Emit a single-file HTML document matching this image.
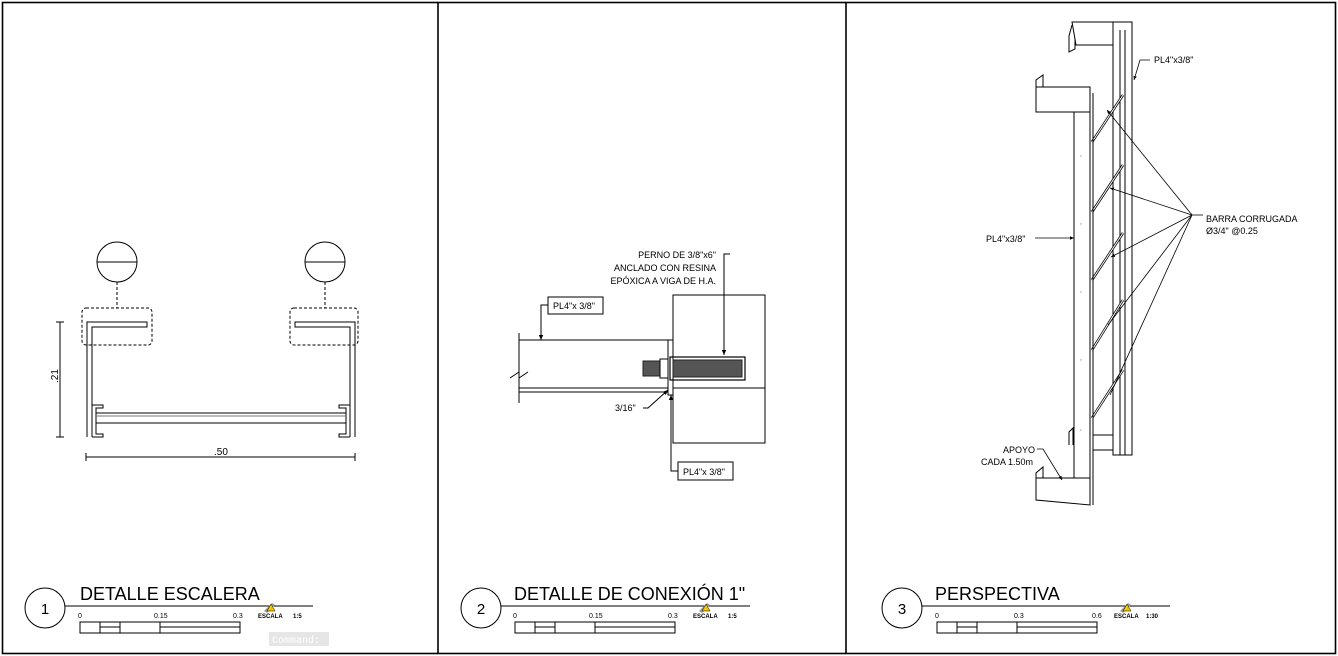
<!DOCTYPE html>
<html><head><meta charset="utf-8"><style>
html,body{margin:0;padding:0;background:#fff;}
svg{display:block;}
text{font-family:"Liberation Sans",sans-serif;fill:#000;}
</style></head><body>
<svg width="1338" height="656" viewBox="0 0 1338 656" xmlns="http://www.w3.org/2000/svg">
<defs>
<marker id="ar" markerWidth="6" markerHeight="6" refX="5" refY="3" orient="auto"><path d="M0,0.8 L5,3 L0,5.2 z" fill="#000"/></marker>
</defs>
<g fill="none" stroke="#000">
<!-- frame -->
<rect x="2.5" y="2.5" width="1333" height="651" stroke-width="1.6"/>
<line x1="438" y1="2" x2="438" y2="654" stroke-width="1.6"/>
<line x1="846" y1="2" x2="846" y2="654" stroke-width="1.6"/>

<!-- PANEL 1 -->
<g stroke-width="1">
<circle cx="117" cy="262" r="20"/><line x1="97" y1="262" x2="137" y2="262"/>
<circle cx="325" cy="262" r="20"/><line x1="305" y1="262" x2="345" y2="262"/>
<line x1="117" y1="282" x2="117" y2="308" stroke-dasharray="3,2"/>
<line x1="325" y1="282" x2="325" y2="308" stroke-dasharray="3,2"/>
<rect x="82" y="308" width="70" height="37" rx="4" stroke-dasharray="3,2"/>
<rect x="290" y="308" width="68" height="37" rx="4" stroke-dasharray="3,2"/>
<path d="M87,437 V322 H147 V327 H92 V437"/>
<path d="M355,437 V322 H295 V327 H350 V437"/>
<path d="M92,405 H103 V408 H96 V434 H103 V437 H92"/>
<path d="M350,405 H339 V408 H346 V434 H339 V437 H350"/>
<line x1="96" y1="413" x2="346" y2="413"/><line x1="96" y1="416" x2="346" y2="416" stroke="#777"/>
<line x1="96" y1="423" x2="346" y2="423"/>
<line x1="60" y1="322" x2="60" y2="437"/>
<line x1="56" y1="322" x2="64" y2="322"/><line x1="56" y1="437" x2="64" y2="437"/>
<line x1="86" y1="457" x2="355" y2="457"/>
<line x1="86" y1="453" x2="86" y2="461"/><line x1="355" y1="453" x2="355" y2="461"/>
</g>

<!-- PANEL 2 -->
<g stroke-width="1">
<rect x="673" y="295" width="92" height="148"/>
<line x1="673" y1="388" x2="765" y2="388"/>
<line x1="519" y1="333" x2="519" y2="403"/>
<path d="M510,378 L519,372 L519,378 L528,372"/>
<line x1="519" y1="340" x2="668" y2="340"/>
<line x1="519" y1="388" x2="668" y2="388"/>
<line x1="519" y1="392" x2="668" y2="392"/>
<rect x="668" y="340" width="5" height="55"/>
<rect x="670" y="357" width="75" height="23" stroke-width="1.2"/>
<rect x="673" y="360" width="69" height="17" fill="#555" stroke="#222"/>
<rect x="643" y="361" width="17" height="15" fill="#555" stroke="#222"/>
<rect x="660" y="359" width="8" height="19" fill="#fff"/>
<path d="M730,254 H724 V355" marker-end="url(#ar)"/>
<rect x="548" y="297" width="55" height="17"/>
<path d="M548,305 H541 V340" marker-end="url(#ar)"/>
<path d="M643,408 H648 L668,390" marker-end="url(#ar)"/>
<rect x="678" y="462" width="55" height="18"/>
<path d="M678,471 H671 V395" marker-end="url(#ar)"/>
</g>

<!-- PANEL 3 -->
<g stroke-width="1">
<!-- right post -->
<path d="M1072,22 H1113 V45 H1076 Z" fill="#fff"/>
<path d="M1072,25 L1069,36 V52 L1075,49 V38"/>
<rect x="1113" y="22" width="19" height="433"/>
<line x1="1120" y1="30" x2="1120" y2="455"/>
<line x1="1125" y1="30" x2="1125" y2="455"/>
<path d="M1093,435 H1113 V450 H1093"/>
<!-- bars -->
<g stroke-width="2.5"><line x1="1092" y1="142" x2="1123" y2="95"/><line x1="1092" y1="212" x2="1123" y2="165"/><line x1="1092" y1="280" x2="1123" y2="233"/><line x1="1092" y1="350" x2="1123" y2="300"/><line x1="1092" y1="418" x2="1123" y2="370"/></g>
<g stroke="#fff" stroke-width="1"><line x1="1092" y1="142" x2="1123" y2="95"/><line x1="1092" y1="212" x2="1123" y2="165"/><line x1="1092" y1="280" x2="1123" y2="233"/><line x1="1092" y1="350" x2="1123" y2="300"/><line x1="1092" y1="418" x2="1123" y2="370"/></g>
<!-- left post -->
<rect x="1074" y="110" width="16" height="375" fill="#fff"/>
<line x1="1090" y1="93" x2="1090" y2="505"/>
<line x1="1093" y1="93" x2="1093" y2="505"/>
<path d="M1036,87 H1090 V112 H1036 Z" fill="#fff"/>
<path d="M1036,87 V80 L1043,75 V87"/>
<path d="M1036,478 H1090 V505 L1036,500 Z" fill="#fff"/>
<path d="M1036,478 V473 L1043,467 V478"/>
<path d="M1069,445 V432 L1073,428 V445"/>
<g stroke-width="0.8">
<line x1="1192" y1="215" x2="1107" y2="110" marker-end="url(#ar)"/>
<line x1="1192" y1="215" x2="1110" y2="188" marker-end="url(#ar)"/>
<line x1="1192" y1="215" x2="1111" y2="257" marker-end="url(#ar)"/>
<line x1="1192" y1="215" x2="1108" y2="325"/>
<line x1="1192" y1="215" x2="1110" y2="395"/>
<line x1="1192" y1="215" x2="1203" y2="215"/>
<path d="M1150,60 H1140 L1134,80" marker-end="url(#ar)"/>
<line x1="1035" y1="238" x2="1074" y2="238" marker-end="url(#ar)"/>
<path d="M1037,449 H1043 L1062,480" marker-end="url(#ar)"/>
</g>
<g fill="#000" stroke="none" font-size="4"><text x="1080" y="158">″</text><text x="1080" y="226">″</text><text x="1080" y="294">″</text><text x="1080" y="362">″</text><text x="1080" y="432">″</text></g>
</g>

<!-- titles -->
<g stroke-width="1">
<circle cx="45" cy="608" r="20"/><line x1="65" y1="606" x2="313" y2="606"/>
<circle cx="481" cy="608" r="20"/><line x1="501" y1="606" x2="750" y2="606"/>
<circle cx="902" cy="608" r="20"/><line x1="922" y1="606" x2="1170" y2="606"/>
<g transform="translate(80,0)"><rect x="0" y="622" width="160" height="11"/><line x1="20" y1="622" x2="20" y2="633"/><line x1="40" y1="622" x2="40" y2="633"/><line x1="80" y1="622" x2="80" y2="633"/><line x1="20" y1="627" x2="40" y2="627"/><line x1="80" y1="627" x2="160" y2="627"/></g>
<g transform="translate(515,0)"><rect x="0" y="622" width="160" height="11"/><line x1="20" y1="622" x2="20" y2="633"/><line x1="40" y1="622" x2="40" y2="633"/><line x1="80" y1="622" x2="80" y2="633"/><line x1="20" y1="627" x2="40" y2="627"/><line x1="80" y1="627" x2="160" y2="627"/></g>
<g transform="translate(937,0)"><rect x="0" y="622" width="160" height="11"/><line x1="20" y1="622" x2="20" y2="633"/><line x1="40" y1="622" x2="40" y2="633"/><line x1="80" y1="622" x2="80" y2="633"/><line x1="20" y1="627" x2="40" y2="627"/><line x1="80" y1="627" x2="160" y2="627"/></g>
</g>
</g>

<!-- texts -->
<text x="0" y="0" font-size="10" transform="translate(58,383) rotate(-90)">.21</text>
<text x="214" y="455" font-size="10">.50</text>
<g font-size="9" text-anchor="end"><text x="716" y="258">PERNO DE 3/8"x6"</text><text x="716" y="271">ANCLADO CON RESINA</text><text x="716" y="284">EPÓXICA A VIGA DE H.A.</text></g>
<text x="553" y="309" font-size="9">PL4"x 3/8"</text>
<text x="615" y="411" font-size="9">3/16"</text>
<text x="683" y="475" font-size="9">PL4"x 3/8"</text>
<text x="1154" y="63" font-size="9">PL4"x3/8"</text>
<text x="986" y="242" font-size="9">PL4"x3/8"</text>
<text x="1206" y="222" font-size="9">BARRA CORRUGADA</text>
<text x="1206" y="234" font-size="9">Ø3/4" @0.25</text>
<text x="1003" y="453" font-size="9">APOYO</text>
<text x="981" y="465" font-size="9">CADA 1.50m</text>

<g font-size="18"><text x="80" y="600">DETALLE ESCALERA</text><text x="514" y="600">DETALLE DE CONEXIÓN 1"</text><text x="935" y="600">PERSPECTIVA</text></g>
<g font-size="15" text-anchor="middle"><text x="45" y="614">1</text><text x="481" y="614">2</text><text x="902" y="614">3</text></g>
<g font-size="7"><text x="78" y="618">0</text><text x="154" y="618">0.15</text><text x="233" y="618">0.3</text>
<text x="513" y="618">0</text><text x="589" y="618">0.15</text><text x="668" y="618">0.3</text>
<text x="935" y="618">0</text><text x="1014" y="618">0.3</text><text x="1092" y="618">0.6</text></g>
<g font-size="6" font-weight="bold"><text x="258" y="618">ESCALA</text><text x="293" y="618">1:5</text><text x="693" y="618">ESCALA</text><text x="728" y="618">1:5</text><text x="1114" y="618">ESCALA</text><text x="1146" y="618">1:30</text></g>
<g><path d="M264,611 L272,603 L275,605 L267,613 Z" fill="#999"/><path d="M271,604 L275,611 L267,611 Z" fill="#f5c400" stroke="#000" stroke-width="0.5"/>
<path d="M699,611 L707,603 L710,605 L702,613 Z" fill="#999"/><path d="M706,604 L710,611 L702,611 Z" fill="#f5c400" stroke="#000" stroke-width="0.5"/>
<path d="M1120,611 L1128,603 L1131,605 L1123,613 Z" fill="#999"/><path d="M1127,604 L1131,611 L1123,611 Z" fill="#f5c400" stroke="#000" stroke-width="0.5"/></g>
<rect x="269" y="632" width="60" height="14" fill="#e6e6e6"/>
<text x="272" y="643" font-size="10" style="font-family:'Liberation Mono',monospace;fill:#fff">Command:</text>
</svg>
</body></html>
